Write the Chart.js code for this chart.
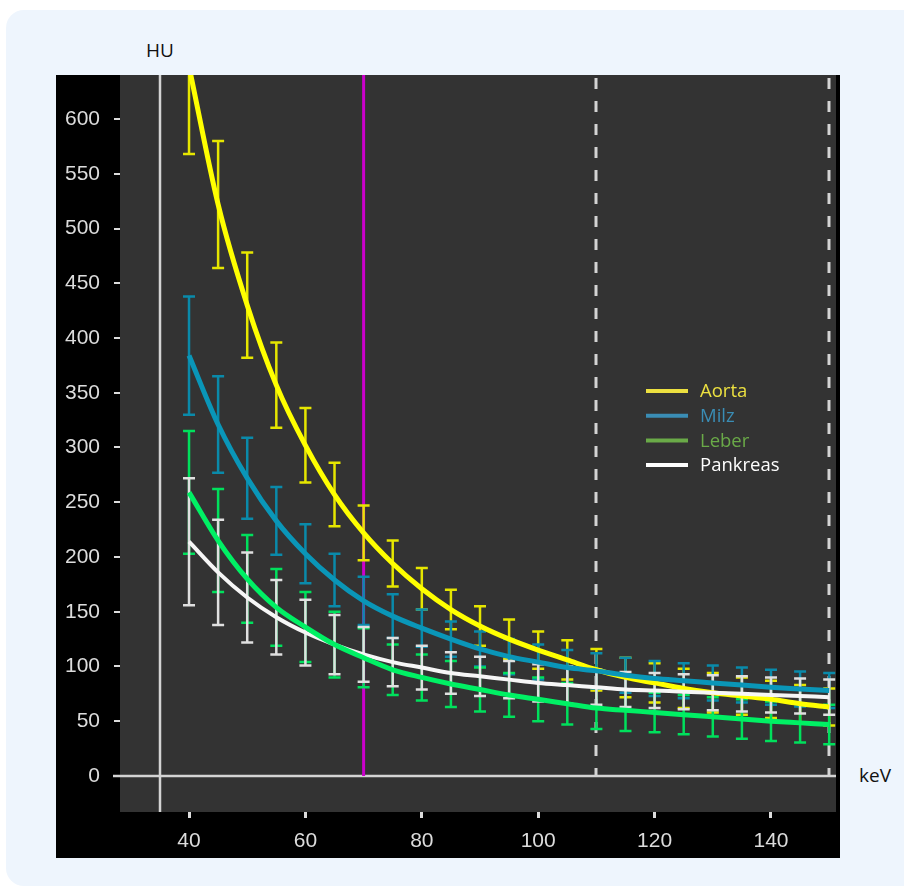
<!DOCTYPE html>
<html>
<head>
<meta charset="utf-8">
<script src="https://cdn.jsdelivr.net/npm/chart.js@4.4.1/dist/chart.umd.min.js"></script>
<style>
  body { margin: 0; background: #ffffff; width: 904px; height: 888px; overflow: hidden; position: relative; }
  .card { position: absolute; left: 6px; top: 10px; width: 940px; height: 876px; border-radius: 18px; background: #eef5fd; }
  .box { position: absolute; left: 56px; top: 75px; width: 784px; height: 783px; background: #000; }
  .lbl { position: absolute; font-family: "Open Sans", sans-serif; font-size: 19px; color: #111; }
</style>
</head>
<body>
<div class="card"></div>
<div class="lbl" style="left:146px; top:37px;">HU</div>
<div class="lbl" style="left:859px; top:762px;">keV</div>
<div class="box"><canvas id="spectral" width="784" height="783"></canvas></div>
<script>
// energy levels (keV)
var keV = [40, 45, 50, 55, 60, 65, 70, 75, 80, 85, 90, 95, 100, 105, 110, 115, 120, 125, 130, 135, 140, 145, 150];

// mean HU per organ
var aorta    = [648, 522, 430, 357, 302, 257, 222, 194, 171, 152, 137, 125, 115, 106, 97, 90, 85, 80, 76, 73, 70, 66, 63];
var milz     = [384, 321, 272, 233, 203, 179, 160, 146, 135, 125, 116, 109, 104, 99, 96, 92, 89, 87, 85, 83, 81, 79.5, 78];
var leber    = [259, 215, 180, 154, 136, 120, 108, 97, 90, 84, 79, 74, 70, 66, 62, 60, 58, 56, 54, 52, 50, 48.5, 47];
var pankreas = [214, 186, 163, 145, 131, 120, 111, 104, 99, 94, 91, 88, 85, 83, 81, 79, 78, 77, 76, 75, 74, 73, 72];

// standard deviation (half length of the error bars)
var aortaSd    = [80, 58, 48, 39, 34, 29, 25, 21, 19, 18, 18, 18, 17, 18, 19, 18, 18, 18, 18, 17, 17, 17, 17];
var milzSd     = [54, 44, 37, 31, 27, 24, 22, 20, 17, 16, 16, 16, 16, 16, 16, 16, 16, 16, 16, 16, 16, 16, 16];
var leberSd    = [56, 47, 40, 35, 32, 30, 27, 23, 21, 21, 20, 20, 20, 19, 19, 19, 18, 18, 18, 18, 18, 18, 18];
var pankreasSd = [58, 48, 41, 34, 30, 27, 25, 22, 20, 19, 18, 17, 17, 17, 16, 16, 16, 16, 16, 16, 16, 16, 16];

// axis ticks
var xTicks = [40, 60, 80, 100, 120, 140];
var yTicks = [0, 50, 100, 150, 200, 250, 300, 350, 400, 450, 500, 550, 600];

var organs = ["Aorta", "Milz", "Leber", "Pankreas"];
var lineColors = ["#ffff00", "#0a96b8", "#00f064", "#f6f6f6"];
var barColors = ["#e6e600", "#0a8aaa", "#00e05c", "#e0e0e0"];
var legendColors = ["#ece040", "#3a8db5", "#6aaa48", "#ffffff"];

// marker lines (keV)
var refLine = 35;
var selLine = 70;
var dashLines = [110, 150];

var means = [aorta, milz, leber, pankreas];
var sds = [aortaSd, milzSd, leberSd, pankreasSd];

function toPoints(arr) {
    return keV.map(function (k, i) { return { x: k, y: arr[i] }; });
}

var overlay = {
    id: 'overlay',
    beforeDraw: function (chart) {
        var a = chart.chartArea, c = chart.ctx;
        c.save();
        c.fillStyle = "#333333";
        c.fillRect(a.left, a.top, a.right - a.left, a.bottom - a.top);
        c.restore();
    },
    beforeDatasetsDraw: function (chart) {
        var a = chart.chartArea, c = chart.ctx;
        var xs = chart.scales.x, ys = chart.scales.y;
        var y0 = Math.round(ys.getPixelForValue(0));
        c.save();
        // zero line
        c.strokeStyle = "#d4d4d4";
        c.lineWidth = 2.5;
        c.beginPath();
        c.moveTo(a.left - 7, y0);
        c.lineTo(a.right, y0);
        c.stroke();
        // reference line
        var xr = Math.round(xs.getPixelForValue(refLine));
        c.beginPath();
        c.moveTo(xr, a.top);
        c.lineTo(xr, a.bottom);
        c.stroke();
        // dashed lines
        c.lineWidth = 3;
        c.setLineDash([11, 12]);
        dashLines.forEach(function (v) {
            var xd = Math.round(xs.getPixelForValue(v));
            c.beginPath();
            c.moveTo(xd, a.top + 3);
            c.lineTo(xd, y0);
            c.stroke();
        });
        c.setLineDash([]);
        // selected energy
        var xm = xs.getPixelForValue(selLine);
        c.strokeStyle = "#cc00cc";
        c.lineWidth = 3;
        c.beginPath();
        c.moveTo(xm, a.top);
        c.lineTo(xm, y0);
        c.stroke();
        // error bars
        c.beginPath();
        c.rect(a.left, a.top, a.right - a.left, a.bottom - a.top);
        c.clip();
        c.lineWidth = 2.5;
        for (var s = 0; s < means.length; s++) {
            c.strokeStyle = barColors[s];
            for (var i = 0; i < keV.length; i++) {
                var px = xs.getPixelForValue(keV[i]);
                var hi = ys.getPixelForValue(means[s][i] + sds[s][i]);
                var lo = ys.getPixelForValue(means[s][i] - sds[s][i]);
                c.beginPath();
                c.moveTo(px, hi); c.lineTo(px, lo);
                c.moveTo(px - 6, hi); c.lineTo(px + 6, hi);
                c.moveTo(px - 6, lo); c.lineTo(px + 6, lo);
                c.stroke();
            }
        }
        c.restore();
    },
    afterDraw: function (chart) {
        var c = chart.ctx;
        c.save();
        c.font = "18.5px 'Open Sans'";
        c.textBaseline = "middle";
        for (var i = 0; i < organs.length; i++) {
            var y = 316 + i * 24.7;
            c.strokeStyle = legendColors[i];
            c.lineWidth = 4;
            c.beginPath();
            c.moveTo(590, y);
            c.lineTo(632, y);
            c.stroke();
            c.fillStyle = legendColors[i];
            c.fillText(organs[i], 644, y + 1);
        }
        c.restore();
    }
};

var datasets = organs.map(function (name, i) {
    return {
        label: name,
        data: toPoints(means[i]),
        borderColor: lineColors[i],
        borderWidth: i === 3 ? 4 : 5,
        pointRadius: 0,
        tension: 0.4,
        cubicInterpolationMode: 'monotone',
        order: [4, 3, 1, 2][i]
    };
});

var tickFont = { family: "'Liberation Sans', Arial, sans-serif", size: 21 };

var ctx = document.getElementById("spectral").getContext("2d");
var spectralChart = new Chart(ctx, {
    type: 'line',
    data: { datasets: datasets },
    plugins: [overlay],
    options: {
        responsive: false,
        animation: false,
        devicePixelRatio: 1,
        layout: { padding: { left: 0, right: 4, top: 0, bottom: 0 } },
        plugins: { legend: { display: false }, tooltip: { enabled: false }, title: { display: false } },
        scales: {
            x: {
                type: 'linear',
                min: 28.14,
                max: 151.17,
                ticks: { color: "#dcdcdc", font: tickFont, padding: 11, maxRotation: 0, autoSkip: false },
                grid: { drawOnChartArea: false, drawTicks: true, tickLength: 6, color: "#dcdcdc", lineWidth: 3 },
                border: { display: false },
                afterBuildTicks: function (scale) {
                    scale.ticks = xTicks.map(function (v) { return { value: v }; });
                },
                afterFit: function (scale) {
                    scale.height = 46;
                    scale.paddingLeft = 0; scale.paddingRight = 0;
                }
            },
            y: {
                min: -32.9,
                max: 640.2,
                ticks: { color: "#dcdcdc", font: tickFont, padding: 14, autoSkip: false },
                grid: { drawOnChartArea: false, drawTicks: true, tickLength: 6, color: "#dcdcdc", lineWidth: 2 },
                border: { display: false },
                afterBuildTicks: function (scale) {
                    scale.ticks = yTicks.map(function (v) { return { value: v }; });
                },
                afterFit: function (scale) {
                    scale.width = 64;
                    scale.paddingTop = 0; scale.paddingBottom = 0;
                }
            }
        }
    }
});
</script>
</body>
</html>
